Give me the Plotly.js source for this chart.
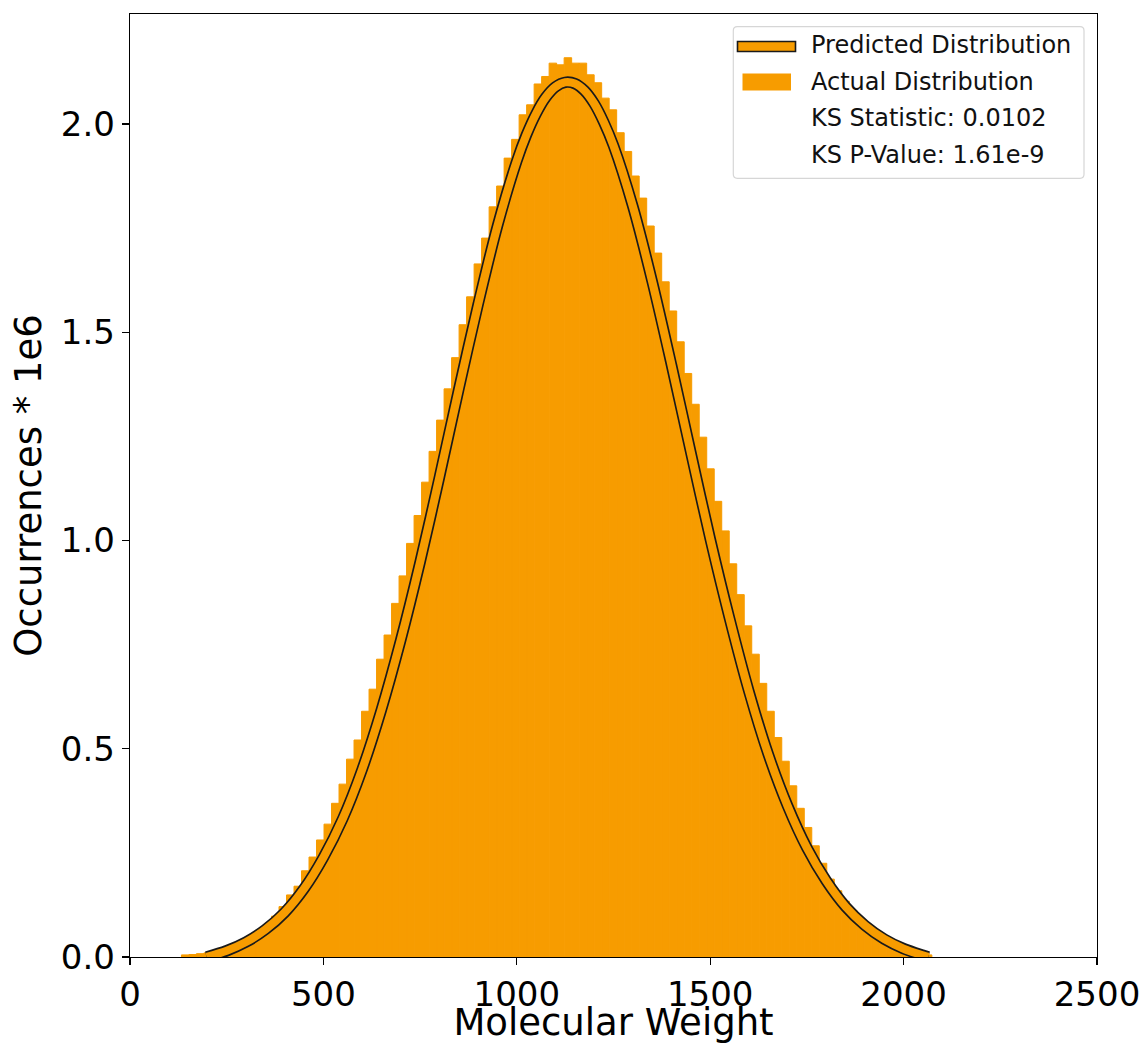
<!DOCTYPE html>
<html>
<head>
<meta charset="utf-8">
<script src="https://cdn.plot.ly/plotly-3.0.1.min.js"></script>
<style>
  html, body { margin: 0; padding: 0; background: #ffffff; }
  #chart { width: 1148px; height: 1044px; }
</style>
</head>
<body>
<div id="chart"></div>
<script>
// ---- Data ----
// Histogram: 100 equal bins, first edge and width in data units (Molecular Weight)
const binStart = 133;
const binWidth = 19.4;
// Bar heights, Occurrences * 1e6
const actualCounts = [
  0.005, 0.006, 0.008, 0.010, 0.013, 0.017, 0.022, 0.028, 0.036, 0.047,
  0.061, 0.078, 0.098, 0.121, 0.149, 0.170, 0.207, 0.240, 0.281, 0.319,
  0.369, 0.415, 0.475, 0.521, 0.590, 0.643, 0.715, 0.773, 0.849, 0.915,
  0.993, 1.060, 1.140, 1.214, 1.289, 1.364, 1.439, 1.518, 1.585, 1.664,
  1.726, 1.801, 1.851, 1.918, 1.963, 2.022, 2.046, 2.096, 2.114, 2.146,
  2.142, 2.159, 2.146, 2.146, 2.118, 2.099, 2.062, 2.034, 1.979, 1.934,
  1.875, 1.822, 1.755, 1.690, 1.621, 1.551, 1.477, 1.401, 1.327, 1.248,
  1.172, 1.094, 1.023, 0.944, 0.870, 0.795, 0.727, 0.657, 0.590, 0.527,
  0.470, 0.411, 0.357, 0.311, 0.267, 0.225, 0.187, 0.159, 0.134, 0.112,
  0.092, 0.074, 0.058, 0.045, 0.034, 0.025, 0.018, 0.012, 0.008, 0.005
];
// Predicted distribution curve
const predictedX = [
  198, 250, 300, 350, 400, 450, 500, 550, 600, 650, 700, 750, 800, 850, 900,
  950, 1000, 1025, 1050, 1075, 1100, 1125, 1150, 1175, 1200, 1225, 1250,
  1300, 1350, 1400, 1450, 1500, 1550, 1600, 1650, 1700, 1750, 1800, 1850,
  1900, 1950, 2000, 2050, 2064
];
const predictedY = [
  0.000, 0.015, 0.036, 0.066, 0.107, 0.164, 0.239, 0.332, 0.450, 0.594, 0.761,
  0.948, 1.152, 1.363, 1.567, 1.755, 1.911, 1.974, 2.025, 2.064, 2.089, 2.100,
  2.097, 2.080, 2.049, 2.004, 1.948, 1.802, 1.622, 1.421, 1.211, 1.004, 0.813,
  0.638, 0.487, 0.363, 0.262, 0.183, 0.121, 0.076, 0.043, 0.020, 0.004, 0.000
];
// Axis ticks
const xTicks = [0, 500, 1000, 1500, 2000, 2500];
const yTicks = [0.0, 0.5, 1.0, 1.5, 2.0];
// Legend texts
const legendLabels = ["Predicted Distribution", "Actual Distribution", "KS Statistic: 0.0102", "KS P-Value: 1.61e-9"];
const xTitle = "Molecular Weight";
const yTitle = "Occurrences * 1e6";

// ---- Styling / layout ----
const ORANGE = "#f79c00";
const binCenters = actualCounts.map((_, i) => binStart + binWidth * (i + 0.5));

const W = 1148, H = 1044;
const mL = 130, mR = 51, mT = 14, mB = 87;
const plotW = W - mL - mR, plotH = H - mT - mB;
const px = (x) => (x - mL) / plotW;         // pixel x -> paper
const py = (y) => (H - mB - y) / plotH;     // pixel y -> paper

const traces = [
  {
    type: "bar", x: binCenters, y: actualCounts, width: binWidth,
    marker: { color: ORANGE, line: { color: ORANGE, width: 1 } },
    hoverinfo: "x+y", showlegend: false, name: legendLabels[1]
  },
  {
    type: "scatter", mode: "lines", x: predictedX, y: predictedY,
    line: { color: "#1a1a1a", width: 11.5, shape: "spline", smoothing: 0.9 },
    hoverinfo: "skip", showlegend: false
  },
  {
    type: "scatter", mode: "lines", x: predictedX, y: predictedY,
    line: { color: ORANGE, width: 8.2, shape: "spline", smoothing: 0.9 },
    showlegend: false, name: legendLabels[0]
  }
];

// Manual matplotlib-style legend
const lx0 = px(733.3), lx1 = px(1084), ly0 = py(178.3), ly1 = py(26.7);
const rx = 4 / plotW, ry = 4 / plotH;
const legendPath =
  `M ${lx0 + rx},${ly1} L ${lx1 - rx},${ly1} Q ${lx1},${ly1} ${lx1},${ly1 - ry} ` +
  `L ${lx1},${ly0 + ry} Q ${lx1},${ly0} ${lx1 - rx},${ly0} L ${lx0 + rx},${ly0} ` +
  `Q ${lx0},${ly0} ${lx0},${ly0 + ry} L ${lx0},${ly1 - ry} Q ${lx0},${ly1} ${lx0 + rx},${ly1} Z`;

const shapes = [
  { type: "path", xref: "paper", yref: "paper", path: legendPath,
    fillcolor: "rgba(255,255,255,0.8)", line: { color: "#d6d6d6", width: 1.2 }, layer: "above" },
  { type: "rect", xref: "paper", yref: "paper", x0: px(737.5), x1: px(795.5), y0: py(51.5), y1: py(41.5),
    fillcolor: ORANGE, line: { color: "#1a1a1a", width: 1.6 }, layer: "above" },
  { type: "rect", xref: "paper", yref: "paper", x0: px(742.5), x1: px(791), y0: py(90.5), y1: py(73.5),
    fillcolor: ORANGE, line: { width: 0 }, layer: "above" }
];

const rowY = [45, 81.7, 118.3, 155];
const annotations = legendLabels.map((t, i) => ({
  text: t, xref: "paper", yref: "paper", x: px(809), y: py(rowY[i]),
  xanchor: "left", yanchor: "middle", showarrow: false,
  font: { family: "DejaVu Sans", size: 24, color: "#111" }
}));

const axisCommon = {
  showgrid: false, zeroline: false, showline: true, mirror: true,
  linecolor: "#000", linewidth: 1.3,
  ticks: "outside", ticklen: 7, tickwidth: 1.3, tickcolor: "#000",
  tickfont: { family: "DejaVu Sans", size: 34, color: "#000" }
};

const layout = {
  width: W, height: H,
  margin: { l: mL, r: mR, t: mT, b: mB, pad: 0 },
  paper_bgcolor: "#fff", plot_bgcolor: "#fff",
  bargap: 0, showlegend: false,
  xaxis: Object.assign({}, axisCommon, {
    range: [0, 2500], tickvals: xTicks, ticktext: xTicks.map(String),
    title: { text: xTitle, font: { family: "DejaVu Sans", size: 37, color: "#000" }, standoff: 6 }
  }),
  yaxis: Object.assign({}, axisCommon, {
    range: [0, 2.264], tickvals: yTicks, ticktext: yTicks.map(v => v.toFixed(1)),
    title: { text: yTitle, font: { family: "DejaVu Sans", size: 37, color: "#000" }, standoff: 8 }
  }),
  shapes: shapes,
  annotations: annotations
};

Plotly.newPlot("chart", traces, layout, { displayModeBar: false, staticPlot: true });
</script>
</body>
</html>
